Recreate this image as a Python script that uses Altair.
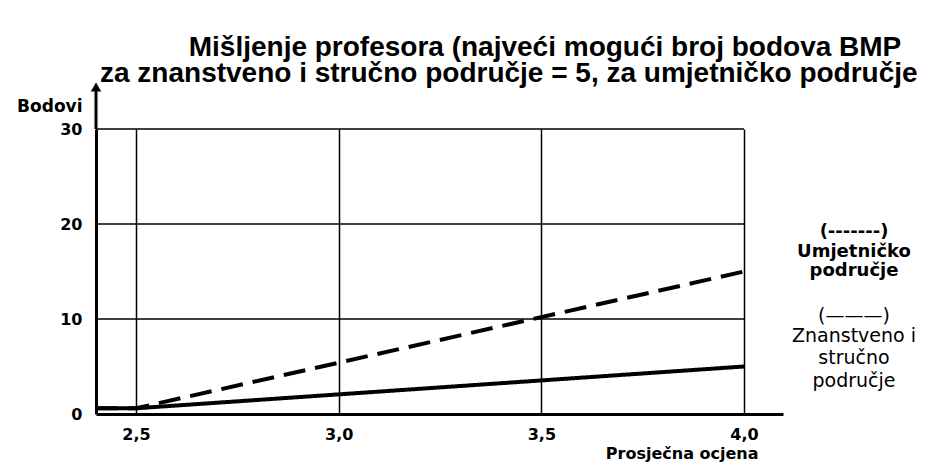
import altair as alt
import pandas as pd

# ---- data ----
grade = [2.4, 2.5, 4.0]                  # Prosječna ocjena
science_points = [0.6, 0.6, 5.0]          # Znanstveno i stručno područje (solid)
arts_points = [0.6, 0.6, 15.0]            # Umjetničko područje (dashed)
x_ticks = [2.5, 3.0, 3.5, 4.0]
y_ticks = [0, 10, 20, 30]
grid_y = [10, 20, 30]
title_lines = [
    "Mišljenje profesora (najveći mogući broj bodova BMP",
    "za znanstveno i stručno područje = 5, za umjetničko područje = 15)",
]
legend_arts = ["(-------)", "Umjetničko", "područje"]
legend_sci = ["(———)", "Znanstveno i", "stručno", "područje"]

# ---- layout constants ----
X_DOMAIN = [2.4013, 4.0962]
Y_DOMAIN = [0, 30]
W, H = 687, 285
BOLD_FONT = "DejaVu Sans"

df = pd.DataFrame({
    "grade": grade * 2,
    "points": science_points + arts_points,
    "series": ["science"] * len(grade) + ["arts"] * len(grade),
})
grid_df = pd.DataFrame({"y": grid_y, "x0": [X_DOMAIN[0]] * len(grid_y), "x1": [x_ticks[-1]] * len(grid_y)})
one = pd.DataFrame({"k": [0]})

xscale = alt.Scale(domain=X_DOMAIN, nice=False, zero=False)
yscale = alt.Scale(domain=Y_DOMAIN, nice=False, zero=False)

x_axis = alt.Axis(
    values=x_ticks,
    labelExpr="replace(format(datum.value, '.1f'), '.', ',')",
    grid=True, gridColor="black", gridWidth=1.5, gridOpacity=1,
    domainColor="black", domainWidth=3,
    ticks=False, labelFlush=False,
    labelFont=BOLD_FONT, labelFontWeight="bold", labelFontSize=16, labelColor="black",
    labelPadding=12,
    title="Prosječna ocjena", titleFont=BOLD_FONT, titleFontWeight="bold", titleFontSize=16,
    titleColor="black", titleAlign="right", titleAnchor="start", titleAngle=0,
    titleX=662, titleY=44, titleBaseline="alphabetic",
)
y_axis = alt.Axis(
    values=y_ticks, grid=False,
    domainColor="black", domainWidth=3,
    ticks=False, labelFlush=False,
    labelFont=BOLD_FONT, labelFontWeight="bold", labelFontSize=16, labelColor="black",
    labelPadding=14,
    title="Bodovi", titleFont=BOLD_FONT, titleFontWeight="bold", titleFontSize=17,
    titleColor="black", titleAngle=0, titleAlign="right", titleBaseline="middle",
    titleX=-14, titleY=-23,
)

grid = alt.Chart(grid_df).mark_rule(color="black", strokeWidth=1.5).encode(
    x=alt.X("x0:Q", scale=xscale, axis=x_axis),
    x2="x1:Q",
    y=alt.Y("y:Q", scale=yscale, axis=y_axis),
)

lines = alt.Chart(df).mark_line(color="black", strokeWidth=4, clip=False).encode(
    x=alt.X("grade:Q", scale=xscale, axis=x_axis),
    y=alt.Y("points:Q", scale=yscale, axis=y_axis),
    strokeDash=alt.StrokeDash(
        "series:N",
        scale=alt.Scale(domain=["arts", "science"], range=[[22, 10], [1, 0]]),
        legend=None,
    ),
    detail="series:N",
)

arrow_shaft = alt.Chart(one).mark_rule(color="black", strokeWidth=3).encode(
    x=alt.value(0), y=alt.value(-40), y2=alt.value(0)
)
arrow_head = alt.Chart(one).mark_point(
    shape="triangle-up", filled=True, size=110, color="black", opacity=1
).encode(x=alt.value(0), y=alt.value(-42))

title = alt.Chart(one).mark_text(
    text=title_lines, font="Liberation Sans", fontWeight="bold", fontSize=28,
    lineHeight=26, align="center", baseline="alphabetic", color="black",
).encode(x=alt.value(449), y=alt.value(-73))

legend_layers = []
arts_y = [103, 123, 142]
for txt, yy in zip(legend_arts, arts_y):
    legend_layers.append(
        alt.Chart(one).mark_text(
            text=txt, font=BOLD_FONT, fontWeight="bold", fontSize=18,
            align="center", baseline="middle", color="black",
        ).encode(x=alt.value(758), y=alt.value(yy))
    )
sci_y = [187, 207, 229, 252]
for txt, yy in zip(legend_sci, sci_y):
    legend_layers.append(
        alt.Chart(one).mark_text(
            text=txt, font="DejaVu Sans", fontWeight="normal", fontSize=19,
            align="center", baseline="middle", color="black",
        ).encode(x=alt.value(758), y=alt.value(yy))
    )

chart = alt.layer(grid, lines, arrow_shaft, arrow_head, title, *legend_layers).properties(
    width=W, height=H,
    autosize=alt.AutoSizeParams(type="none"),
    padding={"left": 88, "top": 121, "right": 134, "bottom": 48},
    background="white",
).configure_view(stroke=None)

chart.save("out.html", embed_options={"renderer": "svg", "actions": False})
